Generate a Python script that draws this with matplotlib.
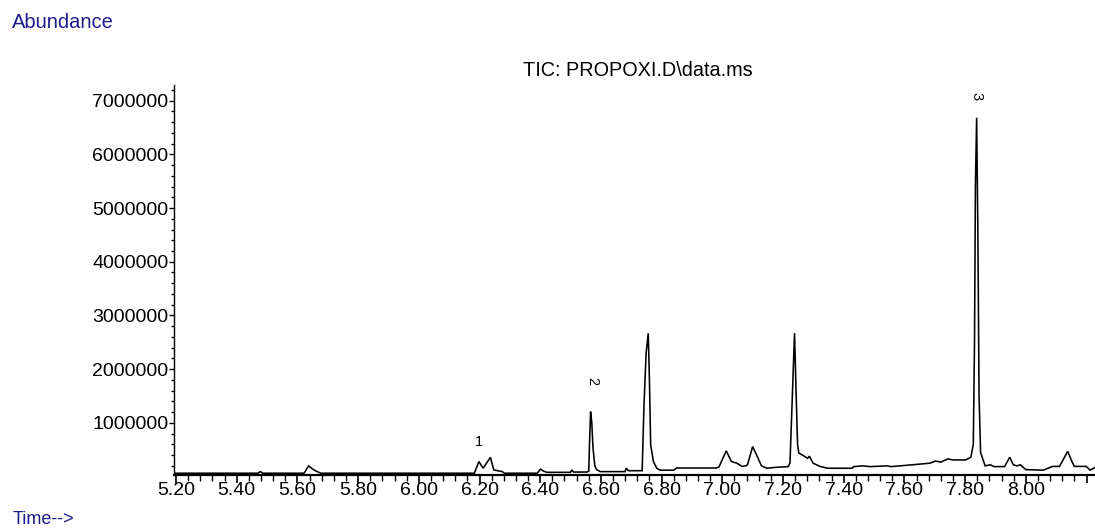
import matplotlib
matplotlib.use("Agg")
import matplotlib.pyplot as plt
from matplotlib.ticker import MultipleLocator, FixedLocator

# ---- data ----
time_min = [
    5.193, 5.300, 5.470, 5.478, 5.486, 5.622, 5.637, 5.648, 5.659, 5.677,
    6.183, 6.198, 6.212, 6.236, 6.247, 6.275, 6.282, 6.390, 6.401, 6.412,
    6.422, 6.500, 6.504, 6.510, 6.554, 6.560, 6.562, 6.566, 6.570, 6.574,
    6.580, 6.586, 6.598, 6.680, 6.683, 6.691, 6.736, 6.738, 6.742, 6.749,
    6.756, 6.760, 6.764, 6.773, 6.784, 6.795, 6.840, 6.849, 6.900, 6.980,
    6.989, 7.013, 7.030, 7.048, 7.065, 7.077, 7.083, 7.100, 7.118, 7.129,
    7.147, 7.170, 7.217, 7.223, 7.229, 7.238, 7.243, 7.248, 7.252, 7.270,
    7.281, 7.287, 7.299, 7.322, 7.346, 7.427, 7.433, 7.462, 7.486, 7.544,
    7.556, 7.626, 7.684, 7.702, 7.720, 7.743, 7.760, 7.801, 7.819, 7.827,
    7.831, 7.834, 7.838, 7.842, 7.846, 7.851, 7.866, 7.883, 7.895, 7.930,
    7.947, 7.959, 7.971, 7.982, 7.994, 8.000, 8.058, 8.088, 8.111, 8.138,
    8.152, 8.160, 8.199, 8.212, 8.228,
]
abundance_mil = [
    0.063, 0.063, 0.063, 0.093, 0.063, 0.063, 0.200, 0.150, 0.110, 0.063,
    0.063, 0.280, 0.156, 0.360, 0.125, 0.093, 0.063, 0.063, 0.138, 0.100,
    0.080, 0.080, 0.125, 0.085, 0.085, 0.100, 0.530, 1.210, 1.000, 0.530,
    0.200, 0.130, 0.093, 0.093, 0.156, 0.110, 0.110, 0.530, 1.340, 2.300,
    2.670, 1.770, 0.590, 0.280, 0.156, 0.120, 0.120, 0.160, 0.160, 0.160,
    0.180, 0.480, 0.280, 0.250, 0.190, 0.200, 0.220, 0.560, 0.340, 0.200,
    0.156, 0.170, 0.186, 0.250, 1.210, 2.670, 1.600, 0.600, 0.440, 0.380,
    0.340, 0.380, 0.250, 0.190, 0.156, 0.156, 0.186, 0.200, 0.186, 0.200,
    0.186, 0.220, 0.250, 0.290, 0.270, 0.330, 0.310, 0.310, 0.360, 0.600,
    2.500, 5.400, 6.680, 4.600, 1.500, 0.450, 0.200, 0.220, 0.186, 0.186,
    0.360, 0.220, 0.200, 0.220, 0.160, 0.130, 0.120, 0.190, 0.190, 0.470,
    0.280, 0.190, 0.190, 0.120, 0.170,
]
abundance = [v * 1_000_000 for v in abundance_mil]

peak_labels = ["1", "2", "3"]
peak_label_times = [6.198, 6.570, 7.838]
peak_label_heights = [650000, 1770000, 7080000]
peak_label_rot = [0, -90, -90]

x_ticks = [5.20, 5.40, 5.60, 5.80, 6.00, 6.20, 6.40, 6.60, 6.80, 7.00, 7.20,
           7.40, 7.60, 7.80, 8.00, 8.20]
x_tick_labels = ["5.20", "5.40", "5.60", "5.80", "6.00", "6.20", "6.40", "6.60",
                 "6.80", "7.00", "7.20", "7.40", "7.60", "7.80", "8.00", ""]
y_ticks = [1000000, 2000000, 3000000, 4000000, 5000000, 6000000, 7000000]
y_tick_labels = ["1000000", "2000000", "3000000", "4000000", "5000000",
                 "6000000", "7000000"]

title_text = "TIC: PROPOXI.D\\data.ms"
y_caption = "Abundance"
x_caption = "Time-->"

# ---- figure ----
plt.rcParams["font.family"] = ["Liberation Sans", "DejaVu Sans"]
W, H = 1095, 528
fig = plt.figure(figsize=(W / 100, H / 100), dpi=100)
ax = fig.add_axes([174 / W, (H - 475) / H, (1095 - 174) / W, (475 - 85) / H])

ax.plot(time_min, abundance, color="black", lw=1.15, solid_joinstyle="miter")

ax.set_xlim(5.1934, 8.228)
ax.set_ylim(30000, 7290000)

for s in ["top", "right"]:
    ax.spines[s].set_visible(False)
ax.spines["left"].set_linewidth(1.0)
ax.spines["bottom"].set_linewidth(1.6)

ax.xaxis.set_major_locator(FixedLocator(x_ticks))
ax.set_xticklabels(x_tick_labels)
ax.xaxis.set_minor_locator(MultipleLocator(0.04))
ax.yaxis.set_major_locator(FixedLocator(y_ticks))
ax.set_yticklabels(y_tick_labels)
ax.yaxis.set_minor_locator(MultipleLocator(200000))

ax.tick_params(axis="x", which="major", direction="out", length=6, width=1.2,
               labelsize=14, pad=-1)
ax.tick_params(axis="x", which="minor", direction="out", length=4, width=1.0)
ax.tick_params(axis="y", which="major", direction="out", length=3.5, width=1.0,
               labelsize=14, pad=0.5)
ax.tick_params(axis="y", which="minor", direction="out", length=2.5, width=1.0)

for lab, t, h, r in zip(peak_labels, peak_label_times, peak_label_heights, peak_label_rot):
    ax.text(t, h, lab, ha="center", va="center", fontsize=10.5, rotation=r)

fig.text(638 / W, 1 - 71 / H, title_text, ha="center", va="center", fontsize=14.3)
fig.text(12 / W, 1 - 22 / H, y_caption, ha="left", va="center", fontsize=14.5,
         color="#1c1c8c")
fig.text(13 / W, 1 - 520 / H, x_caption, ha="left", va="center", fontsize=13,
         color="#1c1c8c")

fig.savefig("out.png", dpi=100)
